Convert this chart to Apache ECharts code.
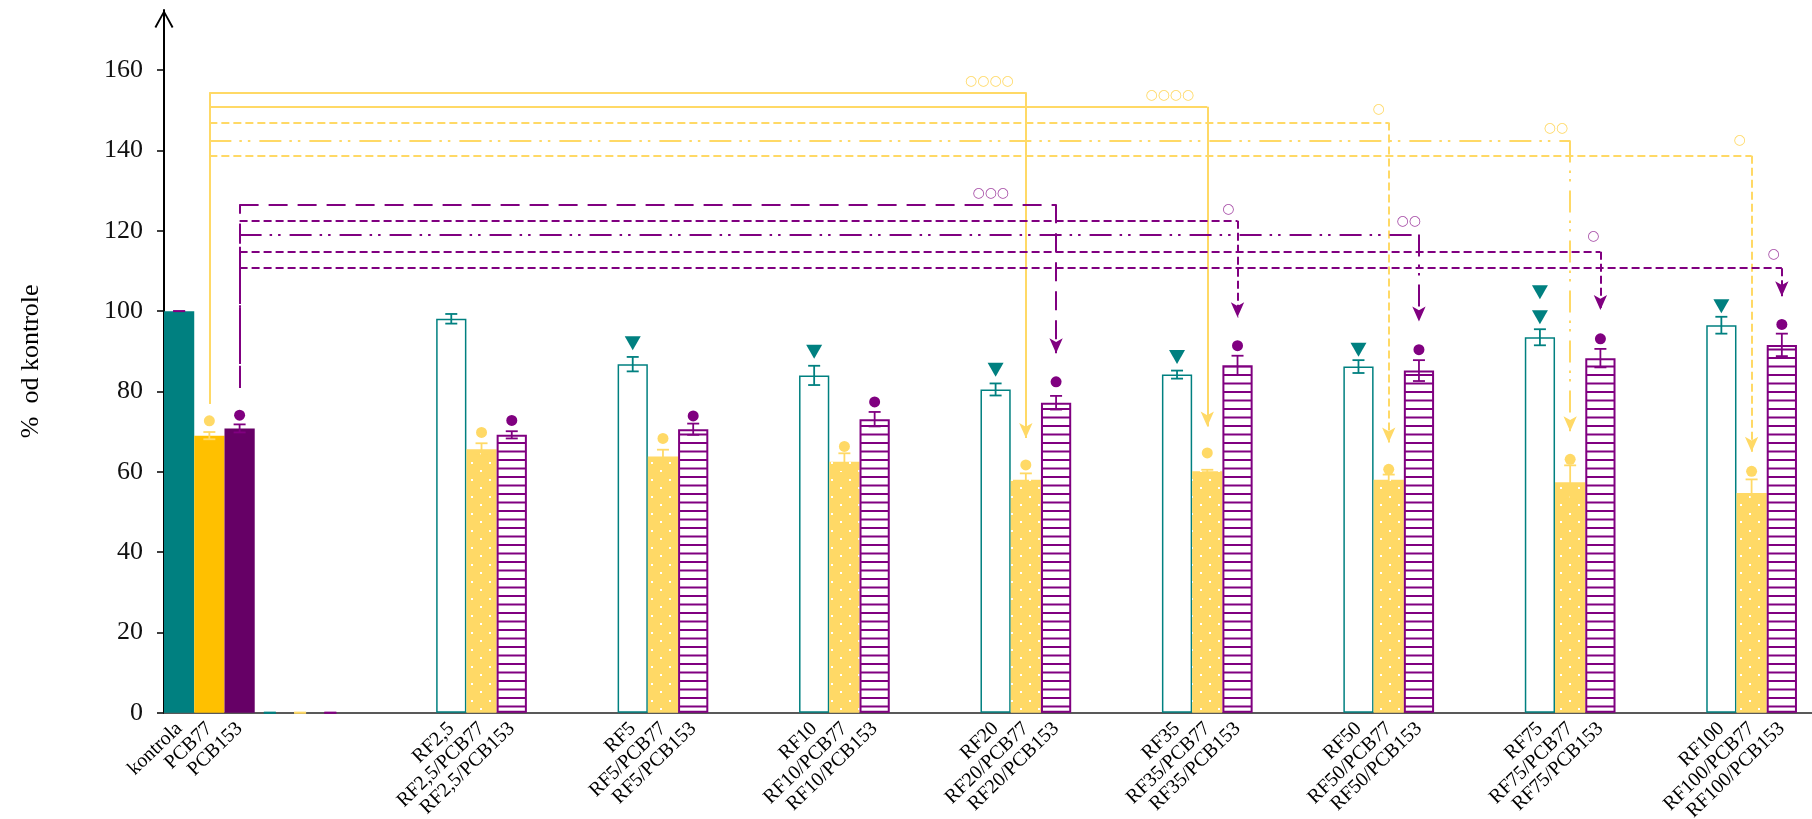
<!DOCTYPE html>
<html><head><meta charset="utf-8">
<script src="https://cdn.jsdelivr.net/npm/echarts@6/dist/echarts.min.js"></script>
<style>html,body{margin:0;padding:0;background:#fff}#chart{width:1812px;height:819px}</style>
</head><body><div id="chart"></div>
<script>
// ---------------- data ----------------
const groupPos = [0, 1, 3, 5, 7, 9, 11, 13, 15, 17];
const totalGroups = 19;
const tealLabels = ['kontrola', '', 'RF2,5', 'RF5', 'RF10', 'RF20', 'RF35', 'RF50', 'RF75', 'RF100'];
const yellowLabels = ['PCB77', '', 'RF2,5/PCB77', 'RF5/PCB77', 'RF10/PCB77', 'RF20/PCB77', 'RF35/PCB77', 'RF50/PCB77', 'RF75/PCB77', 'RF100/PCB77'];
const purpleLabels = ['PCB153', '', 'RF2,5/PCB153', 'RF5/PCB153', 'RF10/PCB153', 'RF20/PCB153', 'RF35/PCB153', 'RF50/PCB153', 'RF75/PCB153', 'RF100/PCB153'];
const tealValues = [100, 0, 98.1, 86.8, 84.0, 80.5, 84.2, 86.2, 93.5, 96.5];
const tealErrors = [0, 0, 1.2, 1.8, 2.4, 1.5, 1.0, 1.6, 2.0, 2.1];
const yellowValues = [69.0, 0, 65.6, 63.8, 62.5, 58.0, 60.1, 58.0, 57.4, 54.7];
const yellowErrors = [0.9, 0, 1.5, 1.7, 2.1, 1.6, 0.4, 1.3, 4.2, 3.4];
const purpleValues = [70.8, 0, 69.2, 70.6, 73.1, 77.2, 86.5, 85.2, 88.3, 91.6];
const purpleErrors = [1.0, 0, 0.9, 1.4, 1.8, 1.7, 2.4, 2.6, 2.3, 2.8];
const tealMarks = [[], [], [], [92.0], [89.9], [85.4], [88.6], [90.4], [98.5, 104.7], [101.2]];
const yellowMarks = [72.7, null, 69.8, 68.3, 66.3, 61.7, 64.7, 60.6, 63.1, 60.1];
const purpleMarks = [74.1, null, 72.8, 73.9, 77.4, 82.4, 91.4, 90.4, 93.1, 96.7];
const yTicks = [0, 20, 40, 60, 80, 100, 120, 140, 160];
const yMax = 175;
// comparison brackets: from group 0 (PCB77 / PCB153) to target groups
const yellowCompStart = 77;
const yellowCompTargets = [5, 6, 7, 8, 9];
const yellowCompLevels = [154.5, 150.9, 147.0, 142.5, 138.7];
const yellowCompTips = [68.4, 71.3, 67.3, 70.1, 65.0];
const yellowCompMarks = ['○○○○', '○○○○', '○', '○○', '○'];
const purpleCompStart = 80.9;
const purpleCompTargets = [5, 6, 7, 8, 9];
const purpleCompLevels = [126.6, 122.5, 119.1, 114.8, 110.7];
const purpleCompTips = [89.5, 98.5, 97.4, 100.3, 103.7];
const purpleCompMarks = ['○○○', '○', '○○', '○', '○'];

// ---------------- styles ----------------
const TEAL = '#008080', GOLD = '#FFC000', YEL = '#FFD966', PURP = '#800080', PURP_SOLID = '#660066';
const DASH = [8, 4], DASHDOTDOT = [22, 8, 2.5, 6, 2.5, 9], LONGDASH = [19, 10];
const yellowCompStyles = ['solid', 'solid', DASH, DASHDOTDOT, DASH];
const purpleCompStyles = [LONGDASH, DASH, DASHDOTDOT, DASH, DASH];
const yellowLabelDist = [[12, 4], [13, 4], [4, 6], [2, 5], [6, 8]];
const purpleLabelDist = [[47, 4], [3, 4], [-2, 6], [1, 8], [2, 7]];
const FONT = "'Liberation Serif','Times New Roman',serif";

const N = totalGroups * 3;
const categories = new Array(N).fill('');
groupPos.forEach((p, i) => {
  categories[p * 3] = tealLabels[i];
  categories[p * 3 + 1] = yellowLabels[i];
  categories[p * 3 + 2] = purpleLabels[i];
});

function makeDots() {
  const c = document.createElement('canvas'); c.width = 18; c.height = 17;
  const g = c.getContext('2d');
  g.fillStyle = YEL; g.fillRect(0, 0, 18, 17);
  g.fillStyle = '#ffffff'; g.fillRect(3, 3, 2, 2); g.fillRect(12, 11, 2, 2);
  return c;
}
function makeStripes() {
  const c = document.createElement('canvas'); c.width = 8; c.height = 17;
  const g = c.getContext('2d');
  g.fillStyle = '#ffffff'; g.fillRect(0, 0, 8, 17);
  g.fillStyle = PURP; g.fillRect(0, 0, 8, 2); g.fillRect(0, 8.5, 8, 2);
  return c;
}

function barData(values, slot, solidColor) {
  const arr = new Array(N).fill('-');
  values.forEach((v, i) => {
    const idx = groupPos[i] * 3 + slot;
    if (i === 0) arr[idx] = { value: v, itemStyle: { color: solidColor, borderWidth: 0 } };
    else if (v === 0) arr[idx] = { value: v, itemStyle: { borderWidth: 0 } };
    else arr[idx] = v;
  });
  return arr;
}
function errData(values, errors, slot) {
  return values.map((v, i) => [groupPos[i] * 3 + slot, v - errors[i], v + errors[i]]);
}
function errSeries(data, color, firstColor) {
  return {
    type: 'custom', z: 5, silent: true, data: data, encode: { x: 0, y: [1, 2] },
    renderItem: function (params, api) {
      const x = api.value(0);
      const lo = api.coord([x, api.value(1)]);
      const hi = api.coord([x, api.value(2)]);
      const c = (params.dataIndex === 0 && firstColor) ? firstColor : color;
      const w = 6; const st = { stroke: c, lineWidth: 1.8 };
      return {
        type: 'group', children: [
          { type: 'line', shape: { x1: lo[0], y1: lo[1], x2: hi[0], y2: hi[1] }, style: st },
          { type: 'line', shape: { x1: lo[0] - w, y1: lo[1], x2: lo[0] + w, y2: lo[1] }, style: st },
          { type: 'line', shape: { x1: hi[0] - w, y1: hi[1], x2: hi[0] + w, y2: hi[1] }, style: st }
        ]
      };
    }
  };
}
function markData(marks, slot) {
  const out = [];
  marks.forEach((m, i) => {
    if (m == null) return;
    (Array.isArray(m) ? m : [m]).forEach(v => out.push([groupPos[i] * 3 + slot, v]));
  });
  return out;
}
function brackets(slot, start, targets, levels, tips, marks, styles, dists, color, labelColor) {
  const src = groupPos[0] * 3 + slot;
  const lines = [];
  targets.forEach((t, i) => {
    const tgt = groupPos[t] * 3 + slot;
    const ls = { color: color, width: 2, type: styles[i] };
    lines.push([{ coord: [src, start], symbol: 'none', lineStyle: ls }, { coord: [src, levels[i]], symbol: 'none' }]);
    lines.push([{ coord: [src, levels[i]], symbol: 'none', lineStyle: ls,
      label: { show: true, position: 'insideEndTop', formatter: marks[i], color: labelColor, fontSize: 14,
        fontFamily: "'DejaVu Sans',sans-serif", distance: dists[i] } },
      { coord: [tgt, levels[i]], symbol: 'none' }]);
    lines.push([{ coord: [tgt, levels[i]], symbol: 'none', lineStyle: ls },
      { coord: [tgt, tips[i]], symbol: 'arrow', symbolSize: [10, 15] }]);
  });
  return lines;
}

const chart = echarts.init(document.getElementById('chart'), null, { renderer: 'canvas' });
const option = {
  backgroundColor: '#ffffff',
  animation: false,
  grid: { left: 164, top: 10, width: N * 30.24, height: 702.7, containLabel: false, outerBoundsMode: 'none' },
  xAxis: {
    type: 'category', data: categories, boundaryGap: true,
    axisLine: { lineStyle: { color: '#595959', width: 2 } },
    axisTick: { show: false },
    axisLabel: { interval: 0, rotate: 44, fontSize: 20, fontFamily: FONT, color: '#000', margin: 13 },
    splitLine: { show: false }
  },
  yAxis: {
    type: 'value', min: 0, max: yMax,
    name: '%  od kontrole', nameLocation: 'middle', nameGap: 120,
    nameTextStyle: { fontSize: 26, fontFamily: FONT, color: '#000' },
    axisLine: { show: true, lineStyle: { color: '#000', width: 2 },
      symbol: ['none', 'path://M0,18 L10,0 L20,18 L18.2,19 L10,3.6 L1.8,19 Z'], symbolSize: [22, 18], symbolOffset: [0, -9] },
    axisTick: { show: true, length: 7, lineStyle: { color: '#000', width: 1.5 }, customValues: yTicks },
    axisLabel: { fontSize: 26, fontFamily: FONT, color: '#111', margin: 21, customValues: yTicks },
    splitLine: { show: false }
  },
  series: [
    { type: 'bar', z: 2, barWidth: '100%', barGap: '-100%', barCategoryGap: 0, data: barData(tealValues, 0, TEAL),
      itemStyle: { color: '#ffffff', borderColor: TEAL, borderWidth: 1.5 } },
    { type: 'bar', z: 2, barWidth: '100%', barGap: '-100%', barCategoryGap: 0, data: barData(yellowValues, 1, GOLD),
      itemStyle: { color: { image: makeDots(), repeat: 'repeat' }, borderWidth: 0 } },
    { type: 'bar', z: 2, barWidth: '100%', barGap: '-100%', barCategoryGap: 0, data: barData(purpleValues, 2, PURP_SOLID),
      itemStyle: { color: { image: makeStripes(), repeat: 'repeat' }, borderColor: PURP, borderWidth: 2 } },
    errSeries(errData(tealValues, tealErrors, 0), TEAL, PURP),
    errSeries(errData(yellowValues, yellowErrors, 1), YEL),
    errSeries(errData(purpleValues, purpleErrors, 2), PURP),
    { type: 'scatter', z: 6, silent: true, symbol: 'triangle', symbolRotate: 180, symbolSize: [16, 14],
      itemStyle: { color: TEAL, opacity: 1 }, data: markData(tealMarks, 0) },
    { type: 'scatter', z: 6, silent: true, symbol: 'circle', symbolSize: 11,
      itemStyle: { color: YEL, opacity: 1 }, data: markData(yellowMarks, 1),
      markLine: { silent: true, animation: false, symbol: ['none', 'none'], label: { show: false },
        data: brackets(1, yellowCompStart, yellowCompTargets, yellowCompLevels, yellowCompTips, yellowCompMarks, yellowCompStyles, yellowLabelDist, YEL, YEL) } },
    { type: 'scatter', z: 6, silent: true, symbol: 'circle', symbolSize: 11,
      itemStyle: { color: PURP, opacity: 1 }, data: markData(purpleMarks, 2),
      markLine: { silent: true, animation: false, symbol: ['none', 'none'], label: { show: false },
        data: brackets(2, purpleCompStart, purpleCompTargets, purpleCompLevels, purpleCompTips, purpleCompMarks, purpleCompStyles, purpleLabelDist, PURP, '#A64CA6') } }
  ]
};
chart.setOption(option);
</script>
</body></html>
